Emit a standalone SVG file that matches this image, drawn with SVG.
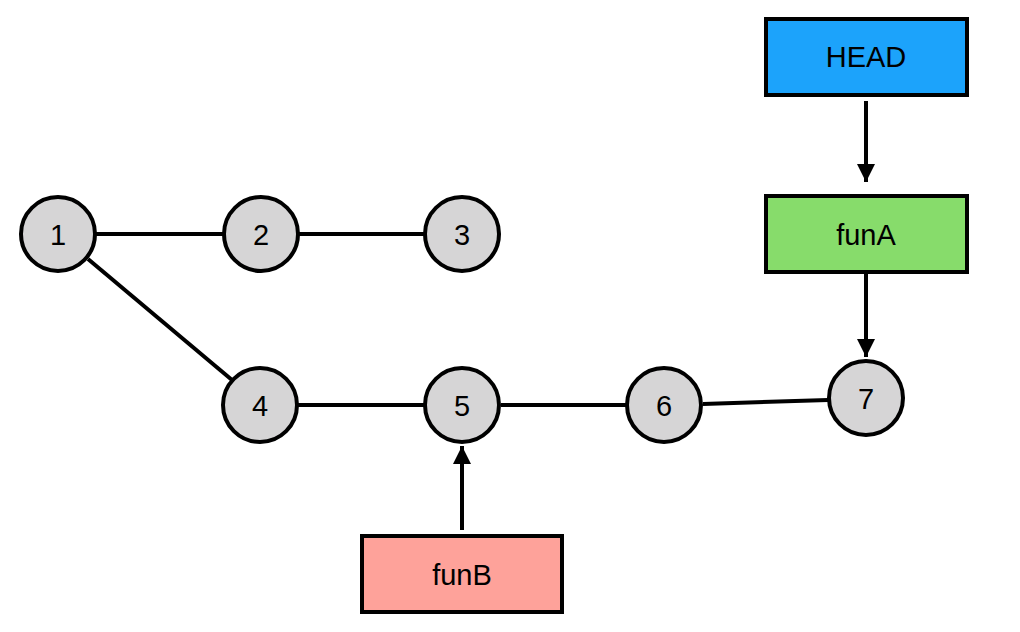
<svg xmlns="http://www.w3.org/2000/svg" width="1020" height="632" viewBox="0 0 1020 632">
<defs>
<style>
.node circle{fill:#d6d5d6;stroke:#000;stroke-width:4}
.box rect{stroke:#000;stroke-width:4}
text{font-family:"Liberation Sans",Arial,sans-serif;font-size:29px;fill:#000;text-anchor:middle;dominant-baseline:central}
.edges line{stroke:#000;stroke-width:4}
</style>
<marker id="arr" viewBox="0 0 10 10" refX="10" refY="5" markerWidth="4.5" markerHeight="4.5" orient="auto" markerUnits="strokeWidth">
<path d="M0,0 L10,5 L0,10 z" fill="#000"/>
</marker>
</defs>
<rect width="1020" height="632" fill="#fff"/>
<g class="edges" id="connectors">
<line x1="96" y1="234" x2="223" y2="234"/>
<line x1="299" y1="234" x2="424" y2="234"/>
<line x1="88" y1="259" x2="232" y2="380"/>
<line x1="298" y1="405" x2="424" y2="405"/>
<line x1="501" y1="405" x2="626" y2="405"/>
<line x1="703" y1="404" x2="828" y2="400"/>
<line x1="866" y1="101" x2="866" y2="182" marker-end="url(#arr)"/>
<line x1="866" y1="272" x2="866" y2="357" marker-end="url(#arr)"/>
<line x1="462" y1="530" x2="462" y2="446" marker-end="url(#arr)"/>
</g>
<g class="node" id="n1"><circle cx="58" cy="234" r="37"/><text x="58" y="235">1</text></g>
<g class="node" id="n2"><circle cx="261" cy="234" r="37"/><text x="261" y="235">2</text></g>
<g class="node" id="n3"><circle cx="462" cy="234" r="37"/><text x="462" y="235">3</text></g>
<g class="node" id="n4"><circle cx="260" cy="405" r="37"/><text x="260" y="406">4</text></g>
<g class="node" id="n5"><circle cx="462" cy="405" r="37"/><text x="462" y="406">5</text></g>
<g class="node" id="n6"><circle cx="664" cy="405" r="37"/><text x="664" y="406">6</text></g>
<g class="node" id="n7"><circle cx="866" cy="398" r="37"/><text x="866" y="399">7</text></g>
<g class="box" id="head"><rect x="766" y="19" width="201" height="76" fill="#1ca3fb"/><text x="866" y="57">HEAD</text></g>
<g class="box" id="funA"><rect x="766" y="196" width="201" height="76" fill="#87dc6b"/><text x="866" y="235">funA</text></g>
<g class="box" id="funB"><rect x="362" y="536" width="200" height="76" fill="#fea29a"/><text x="462" y="575">funB</text></g>
</svg>
